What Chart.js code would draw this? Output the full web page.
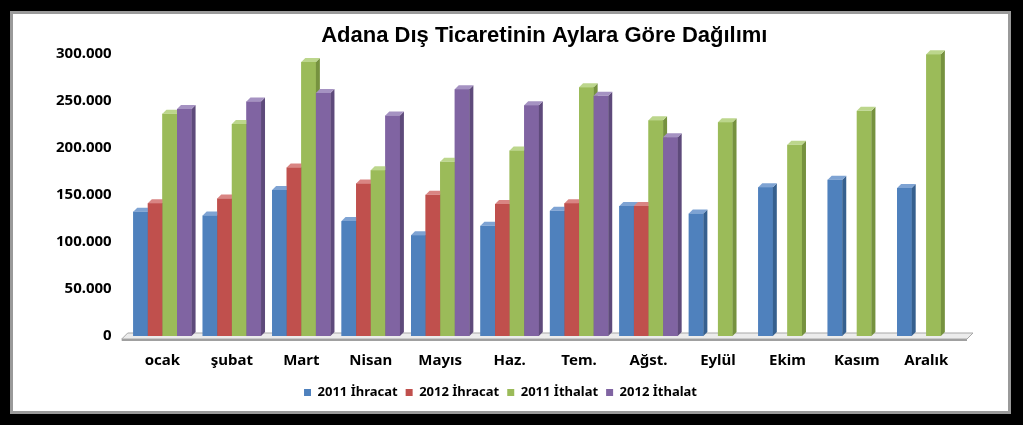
<!DOCTYPE html>
<html>
<head>
<meta charset="utf-8">
<script src="https://cdn.jsdelivr.net/npm/chart.js@4.4.0/dist/chart.umd.min.js"></script>
<style>
  html, body { margin: 0; padding: 0; background: #000; }
  #frame {
    position: absolute; left: 10px; top: 11px;
    width: 1001px; height: 403px; box-sizing: border-box;
    border: 3px solid #9a9a9a; background: #fff;
  }
  #frame canvas { display: block; }
</style>
</head>
<body>
<div id="frame"><canvas id="myChart" width="995" height="397"></canvas></div>
<script>
const months = ['ocak', 'şubat', 'Mart', 'Nisan', 'Mayıs', 'Haz.', 'Tem.', 'Ağst.', 'Eylül', 'Ekim', 'Kasım', 'Aralık'];
const ihracat2011 = [132000, 128000, 155000, 122000, 107000, 117000, 133000, 138000, 130000, 158000, 166000, 157000];
const ihracat2012 = [141000, 146000, 179000, 162000, 150000, 140000, 141000, 138000, null, null, null, null];
const ithalat2011 = [236000, 225000, 291000, 176000, 185000, 197000, 264000, 229000, 227000, 203000, 239000, 299000];
const ithalat2012 = [241000, 249000, 258000, 234000, 262000, 245000, 255000, 211000, null, null, null, null];
const yTicks = [0, 50000, 100000, 150000, 200000, 250000, 300000];

const seriesNames = ['2011 İhracat', '2012 İhracat', '2011 İthalat', '2012 İthalat'];
const fronts = ['#4f81bd', '#c0504d', '#9bbb59', '#8064a2'];
const sides = ['#36608f', '#93393a', '#76923f', '#5e4a7b'];
const tops = ['#7ea3d3', '#d98583', '#bcd68c', '#a592c2'];

const DX = 4, DY = 4;

// 3D look: floor slab, then each bar repainted in series order with side + top faces
const bar3d = {
  id: 'bar3d',
  beforeDatasetsDraw(chart) {
    const ctx = chart.ctx;
    const left = chart.chartArea.left, right = chart.chartArea.right;
    const base = chart.scales.y.getPixelForValue(0);
    ctx.save();
    ctx.fillStyle = '#ececec';
    ctx.strokeStyle = '#a8a8a8';
    ctx.lineWidth = 1;
    ctx.beginPath();
    ctx.moveTo(left - 6, base + 3);
    ctx.lineTo(left, base - 3);
    ctx.lineTo(right + 12, base - 3);
    ctx.lineTo(right + 6, base + 3);
    ctx.closePath();
    ctx.fill();
    ctx.stroke();
    ctx.fillStyle = '#a0a0a0';
    ctx.fillRect(left - 6, base + 3, right - left + 12, 2);
    ctx.restore();
  },
  afterDatasetsDraw(chart) {
    const ctx = chart.ctx;
    ctx.save();
    chart.data.datasets.forEach((ds, i) => {
      const meta = chart.getDatasetMeta(i);
      meta.data.forEach((el, j) => {
        if (ds.data[j] == null) return;
        const r = el.x + el.width / 2, l = el.x - el.width / 2;
        const t = el.y, b = el.base;
        ctx.fillStyle = fronts[i];
        ctx.fillRect(l, t, r - l, b - t);
        ctx.fillStyle = sides[i];
        ctx.beginPath();
        ctx.moveTo(r, t);
        ctx.lineTo(r + DX, t - DY);
        ctx.lineTo(r + DX, b - DY);
        ctx.lineTo(r, b);
        ctx.closePath();
        ctx.fill();
        ctx.fillStyle = tops[i];
        ctx.beginPath();
        ctx.moveTo(l, t);
        ctx.lineTo(l + DX, t - DY);
        ctx.lineTo(r + DX, t - DY);
        ctx.lineTo(r, t);
        ctx.closePath();
        ctx.fill();
      });
    });
    ctx.restore();
  }
};

const dataSeries = [ihracat2011, ihracat2012, ithalat2011, ithalat2012];

new Chart(document.getElementById('myChart'), {
  type: 'bar',
  data: {
    labels: months,
    datasets: dataSeries.map((d, i) => ({
      label: seriesNames[i],
      data: d,
      backgroundColor: fronts[i],
      borderWidth: 0,
      categoryPercentage: 0.84,
      barPercentage: 1.0,
    })),
  },
  options: {
    responsive: false,
    animation: false,
    layout: { padding: { left: 27, right: 47, top: 6, bottom: 2 } },
    plugins: {
      title: {
        display: true,
        fullSize: false,
        text: 'Adana Dış Ticaretinin Aylara Göre Dağılımı',
        color: '#000',
        font: { family: "'Liberation Sans', sans-serif", size: 22, weight: 'bold' },
        padding: { top: 3, bottom: 4 },
      },
      legend: {
        position: 'bottom',
        labels: {
          boxWidth: 7, boxHeight: 7, color: '#000', padding: 8,
          font: { family: "'Noto Sans', sans-serif", size: 13, weight: 'bold' },
        },
      },
      tooltip: { enabled: false },
    },
    scales: {
      x: {
        grid: { display: false, drawTicks: false },
        border: { display: false },
        afterFit: (axis) => { axis.height -= 8; },
        ticks: {
          color: '#000', padding: 16,
          font: { family: "'Noto Sans', sans-serif", size: 15, weight: 'bold' },
        },
      },
      y: {
        min: 0, max: 300000,
        afterBuildTicks: (axis) => { axis.ticks = yTicks.map((v) => ({ value: v })); },
        grid: { display: false, drawTicks: false },
        border: { display: false },
        ticks: {
          color: '#000', padding: 16,
          font: { family: "'Noto Sans', sans-serif", size: 15, weight: 'bold' },
          callback: (v) => (v === 0 ? '0' : v.toLocaleString('de-DE')),
        },
      },
    },
  },
  plugins: [bar3d],
});
</script>
</body>
</html>
